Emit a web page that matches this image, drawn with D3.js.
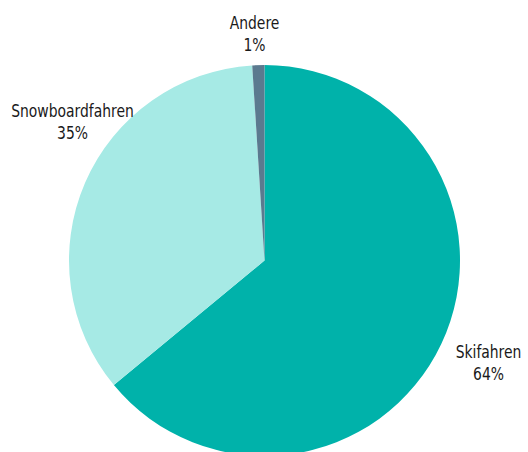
<!DOCTYPE html>
<html><head><meta charset="utf-8">
<script src="https://cdn.jsdelivr.net/npm/d3@7"></script>
<style>
html,body{margin:0;padding:0;background:#fff;overflow:hidden;}
text{font-family:"DejaVu Sans Condensed","Liberation Sans Narrow","Roboto",sans-serif;font-size:18px;fill:#1a1a1a;}
</style></head>
<body><svg id="c" width="528" height="452"></svg>
<script>
const categories = ["Skifahren", "Snowboardfahren", "Andere"];
const values = [64, 35, 1];
const labels = ["64%", "35%", "1%"];
const colors = ["#00b2aa", "#a6eae5", "#5b7a8f"];

const svg = d3.select("#c");
const cx = 264.5, cy = 260.5, r = 195.5;
const g = svg.append("g").attr("transform", `translate(${cx},${cy})`);
const pie = d3.pie().sort(null).value(d => d.v);
const data = categories.map((c, i) => ({c, v: values[i], l: labels[i], col: colors[i]}));
const arcs = pie(data);
const arc = d3.arc().innerRadius(0).outerRadius(r);
g.selectAll("path").data(arcs).join("path")
  .attr("d", arc).attr("fill", d => d.data.col);

const labelPos = {
  "Skifahren": [224, 97],
  "Snowboardfahren": [-192, -144],
  "Andere": [-10, -232]
};
const lg = g.selectAll("g.lab").data(arcs).join("g").attr("class","lab")
  .attr("transform", d => `translate(${labelPos[d.data.c][0]},${labelPos[d.data.c][1]}) scale(0.86,1)`);
lg.append("text").attr("text-anchor","middle").attr("y", 0).text(d => d.data.c);
lg.append("text").attr("text-anchor","middle").attr("y", 23).text(d => d.data.l);
</script></body></html>
